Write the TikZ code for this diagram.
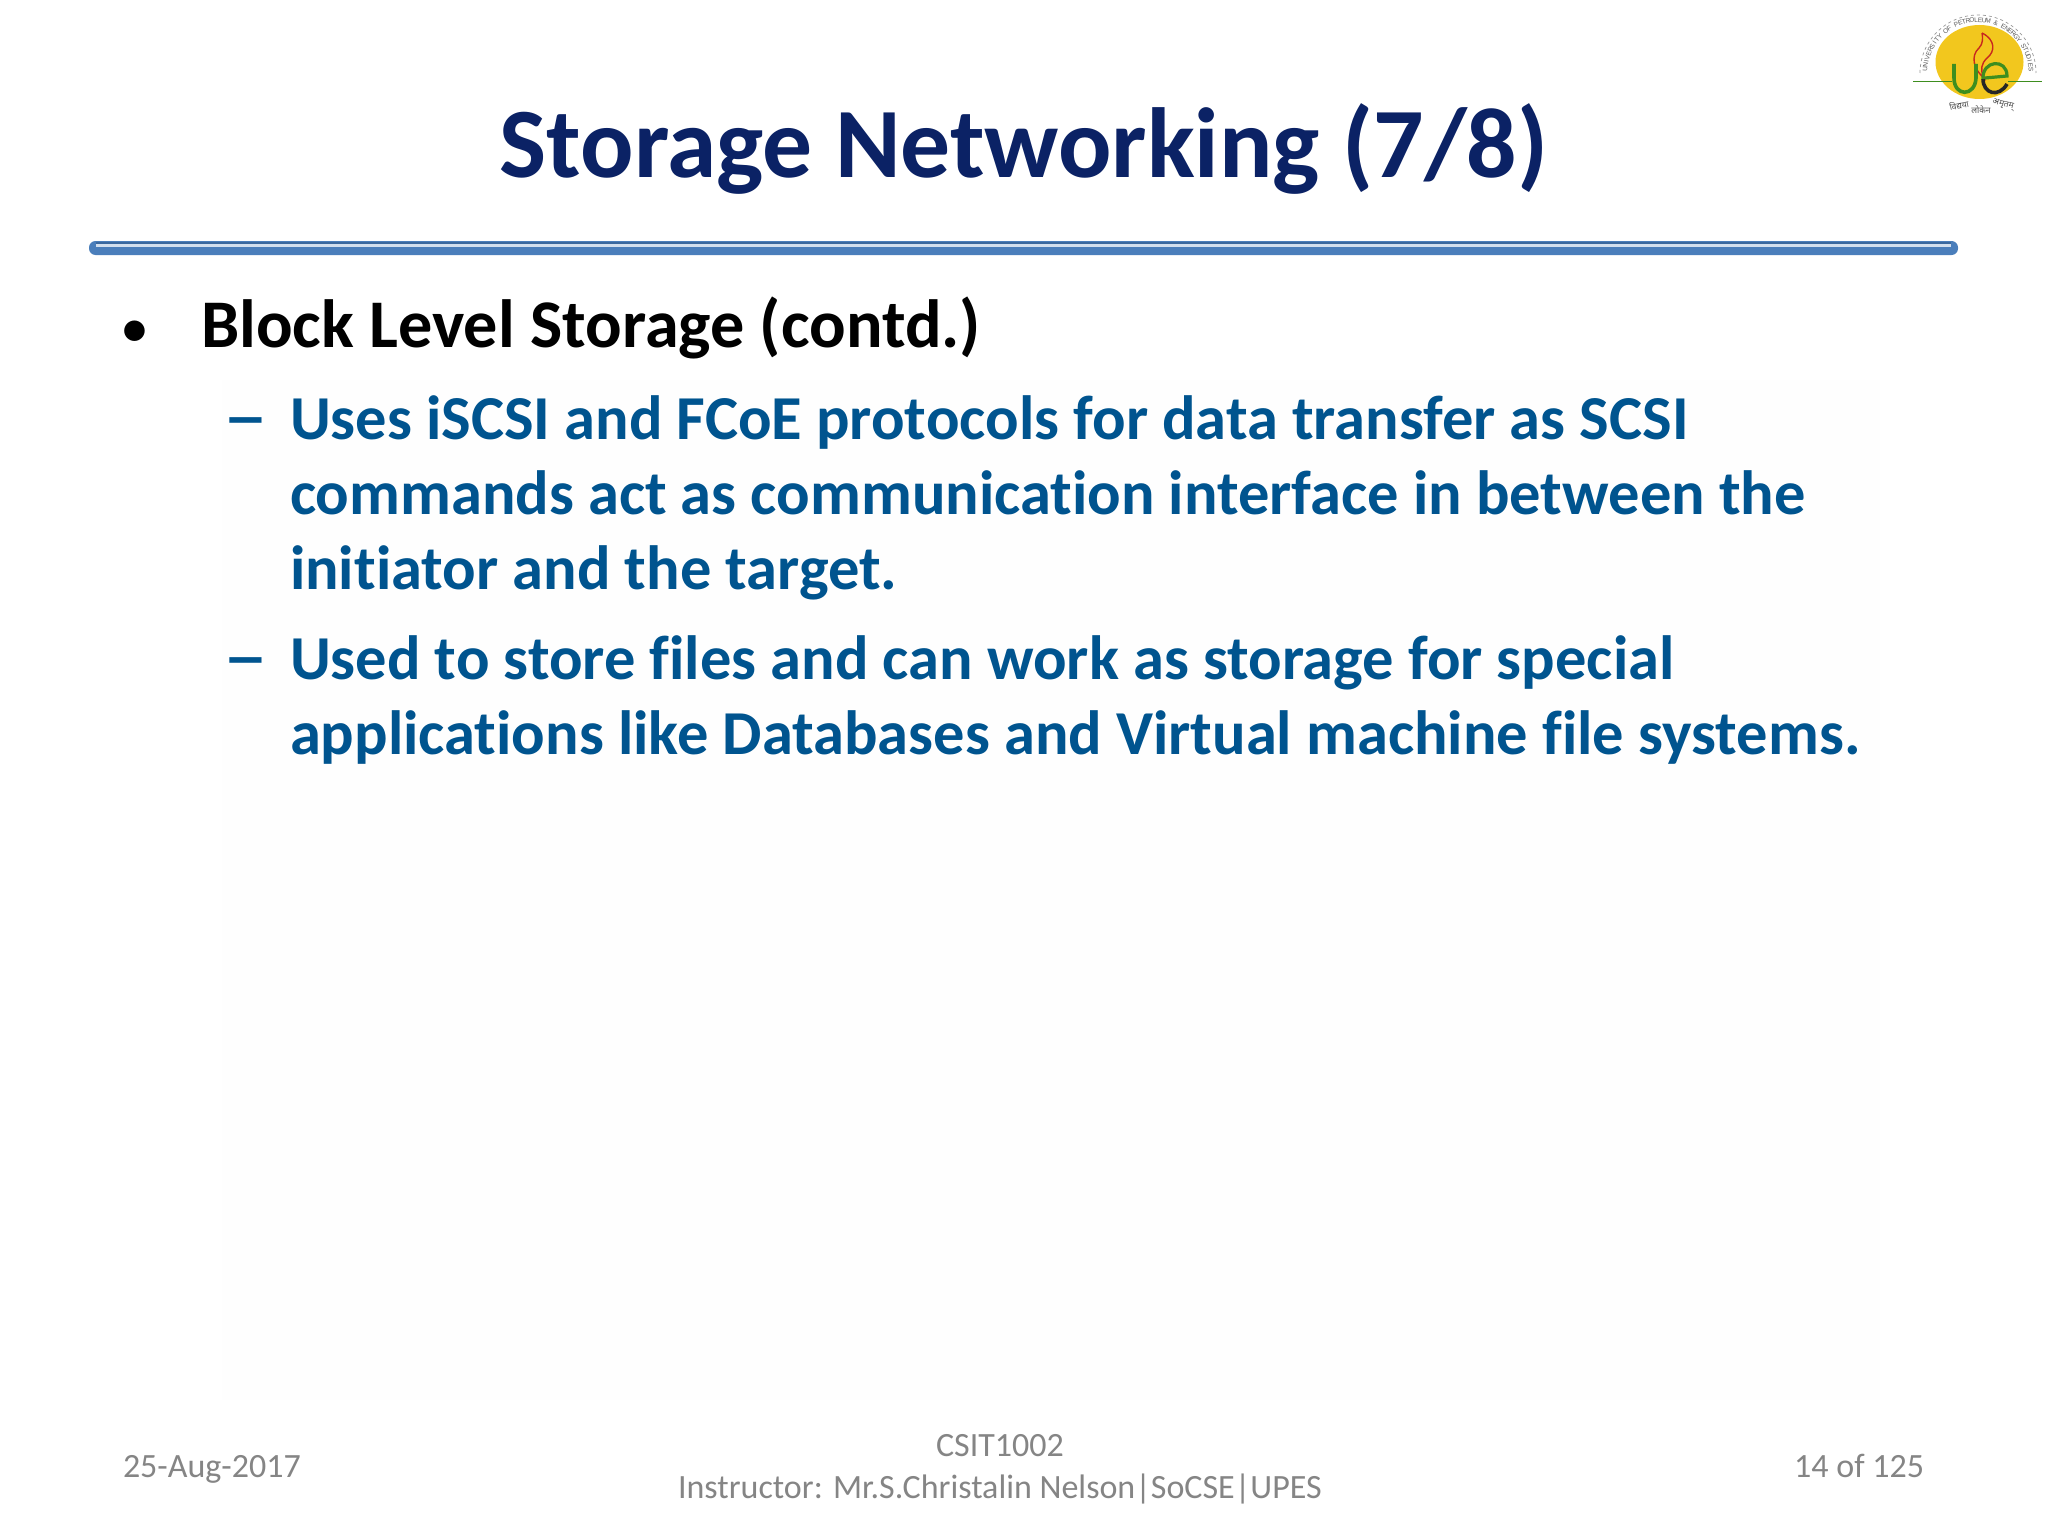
\documentclass[tikz,border=0pt]{standalone}
\usepackage{fontspec}
\setmainfont[Ligatures=CommonOff]{Carlito}
\newfontfamily\devfont[Script=Devanagari]{Noto Sans}
\newfontfamily\logofont{Liberation Sans}
\definecolor{titleblue}{HTML}{0B2265}
\definecolor{bodyblue}{HTML}{00548F}
\definecolor{footgray}{HTML}{858585}
\definecolor{barblue}{HTML}{4A7EBB}
\definecolor{bardark}{HTML}{3A689E}
\definecolor{logoyellow}{HTML}{F2C71E}
\definecolor{logogreen}{HTML}{3E8E1F}
\definecolor{logored}{HTML}{C8281E}
\definecolor{panel}{HTML}{FEFEFE}
\tikzset{
  every node/.style={inner sep=0pt,outer sep=0pt},
  titletext/.style={anchor=base,font=\bfseries\fontsize{99.6}{100}\selectfont,text=titleblue},
  headtext/.style={anchor=base west,font=\bfseries\fontsize{68.2}{68}\selectfont,text=black},
  subtext/.style={anchor=base west,font=\bfseries\fontsize{62.5}{62}\selectfont,text=bodyblue},
  dashtext/.style={anchor=base west,font=\fontsize{90}{90}\selectfont,text=bodyblue},
  foottext/.style={font=\fontsize{34}{34}\selectfont,text=footgray},
  ringletter/.style={font=\logofont\fontsize{6.5}{6.5}\selectfont,text=black!65},
  mottotext/.style={font=\devfont\fontsize{8.5}{8.5}\selectfont,text=black!70},
}
\begin{document}
\begin{tikzpicture}[x=1pt,y=-1pt]
\useasboundingbox (0,0) rectangle (2048,1536);
\fill[white] (0,0) rectangle (2048,1536);
\fill[panel] (222,380) rectangle (1880,1400);
% title rule
\fill[barblue,rounded corners=6.5] (89,241) rectangle (1958,255);
\fill[bardark] (96,241.5) rectangle (1951,244);
\fill[white!75!barblue] (96,244) rectangle (1951,246.5);
% title and text
\node[titletext] (title) at (1024,177) {Storage Networking (7/8)};
\node[anchor=base,font=\fontsize{58}{58}\selectfont] (b0) at (135,347) {•};
\node[headtext] (h0) at (201,347) {Block Level Storage (contd.)};
\node[dashtext] (d1) at (223,445) {–};
\node[subtext] (l1) at (290,439) {Uses iSCSI and FCoE protocols for data transfer as SCSI};
\node[subtext] (l2) at (290,514) {commands act as communication interface in between the};
\node[subtext] (l3) at (290,589) {initiator and the target.};
\node[dashtext] (d2) at (223,685) {–};
\node[subtext] (l4) at (290,679) {Used to store files and can work as storage for special};
\node[subtext] (l5) at (290,754) {applications like Databases and Virtual machine file systems.};
% footer
\node[foottext,anchor=base west] (f1) at (123,1477) {25-Aug-2017};
\node[foottext,anchor=base] (f2) at (1000,1456) {CSIT1002};
\node[foottext,anchor=base] (f3) at (1000,1498) {Instructor: Mr.S.Christalin Nelson|SoCSE|UPES};
\node[foottext,anchor=base east] (f4) at (1924,1477) {14 of 125};
% logo
\fill[logoyellow] (1979.5,62) ellipse[x radius=44,y radius=37];
\draw[logogreen,line width=1.6] (1913,81.5) -- (1952,81.5);
\draw[logogreen,line width=1.6] (2008,81.5) -- (2042,81.5);
\draw[gray!80,line width=0.7,dashed] (1920,73) arc[start angle=180,end angle=360,radius=58];
\foreach \c [count=\i from 0] in {U,N,I,V,E,R,S,I,T,Y,{ },O,F,{ },P,E,T,R,O,L,E,U,M,{ },\&,{ },E,N,E,R,G,Y,{ },S,T,U,D,I,E,S}{
  \pgfmathsetmacro{\ang}{-176+\i*172/39}
  \pgfmathsetmacro{\rot}{-(\ang+90)}
  \pgfmathsetmacro{\px}{1978+53*cos(\ang)}
  \pgfmathsetmacro{\py}{73+53*sin(\ang)}
  \node[ringletter,rotate=\rot] at (\px,\py) {\c};
}
\draw[logored,line width=1.4] (1982,33) .. controls (1996,40) and (1995,52) .. (1987,58) .. controls (1981,64) and (1980,70) .. (1984,78) .. controls (1974,70) and (1970,56) .. (1979,48) .. controls (1983,44) and (1983,38) .. (1982,33);
\draw[logogreen,line width=3.6] (1954,64) -- (1954,78) .. controls (1954,97) and (1975,97) .. (1976,78) -- (1976,64);
\draw[black!85,line width=3.6] (2007,84) .. controls (1999,98) and (1983,94) .. (1983,79);
\draw[logogreen,line width=3.2] (1983,79) .. controls (1982,60) and (2007,58) .. (2007,76) -- (1985,78);
\node[mottotext,rotate=12] (m1) at (1959,105) {विद्यया};
\node[mottotext] (m2) at (1981,110) {लोकेन};
\node[mottotext,rotate=-14] (m3) at (2003,105) {अमृतम्};
\end{tikzpicture}
\end{document}
